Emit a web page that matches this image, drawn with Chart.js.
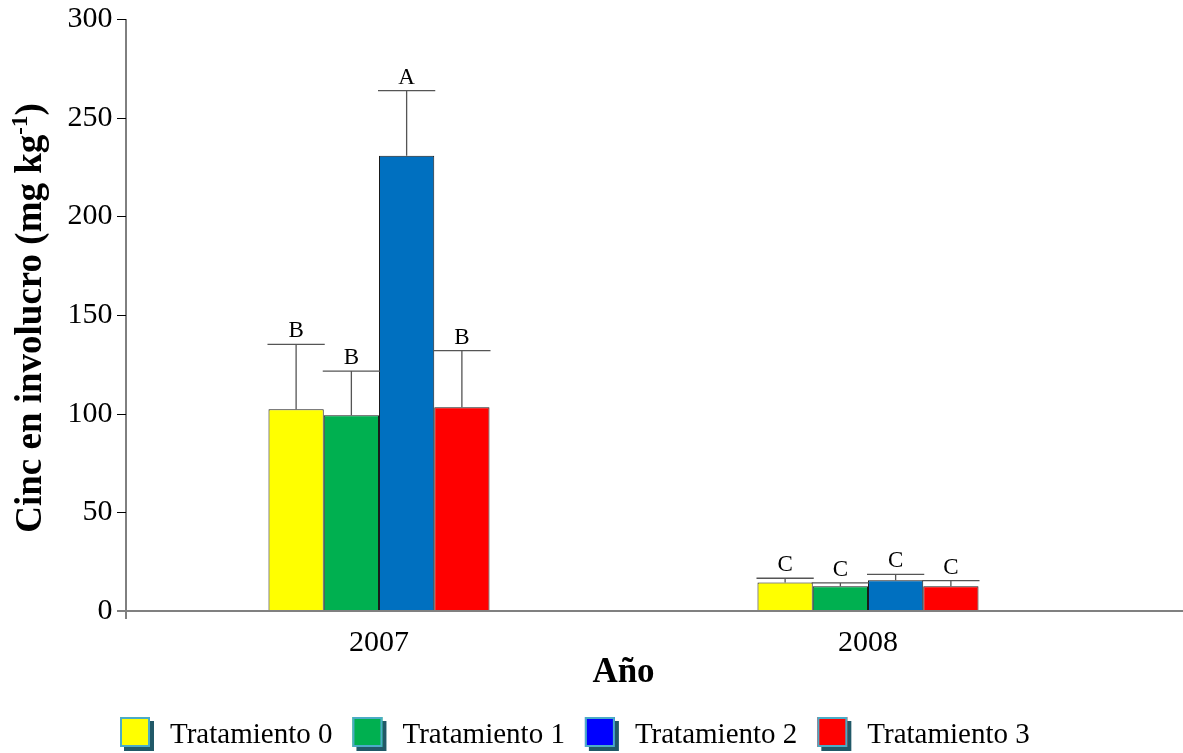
<!DOCTYPE html>
<html>
<head>
<meta charset="utf-8">
<script src="https://cdn.jsdelivr.net/npm/chart.js@4/dist/chart.umd.min.js"></script>
<style>
  html, body { margin: 0; padding: 0; background: #ffffff; }
  #chart { display: block; }
</style>
</head>
<body>
<canvas id="chart" width="1183" height="753"></canvas>
<script>
// --- datos ---
const years = ['2007', '2008'];
const seriesNames = ['Tratamiento 0', 'Tratamiento 1', 'Tratamiento 2', 'Tratamiento 3'];

const trat0 = [102.2, 14.5];
const trat1 = [99.2, 12.5];
const trat2 = [230.7, 15.6];
const trat3 = [103.2, 12.5];

// error (barra superior)
const err0 = [32.9, 2.1];
const err1 = [22.4, 1.8];
const err2 = [33.0, 3.0];
const err3 = [28.7, 2.9];

// letras de significancia
const letters0 = ['B', 'C'];
const letters1 = ['B', 'C'];
const letters2 = ['A', 'C'];
const letters3 = ['B', 'C'];

const barColors = ['#ffff00', '#00b050', '#0070c0', '#ff0000'];
const legendColors = ['#ffff00', '#00b050', '#0000ff', '#ff0000'];

const yMin = 0, yMax = 300, yStep = 50;

const SERIF = '"Liberation Serif", "Times New Roman", serif';

const values = [trat0, trat1, trat2, trat3];
const errors = [err0, err1, err2, err3];
const letters = [letters0, letters1, letters2, letters3];

const datasets = seriesNames.map((name, i) => ({
    label: name,
    data: values[i],
    errors: errors[i],
    letters: letters[i],
    backgroundColor: barColors[i],
    borderColor: '#1a1a1a',
    borderWidth: 1,
    borderSkipped: false,
    categoryPercentage: 0.452,
    barPercentage: 1.0
}));

// ejes, barras de error, letras, título Y y leyenda
const decorPlugin = {
    id: 'decor',
    afterDatasetsDraw(chart) {
        const ctx = chart.ctx;
        const area = chart.chartArea;
        const yScale = chart.scales.y;
        const axisX = area.left - 8.5;

        ctx.save();

        // eje Y
        ctx.strokeStyle = '#000000';
        ctx.lineWidth = 1;
        ctx.beginPath();
        ctx.moveTo(axisX, area.top);
        ctx.lineTo(axisX, area.bottom + 8);
        for (let v = yMin + yStep; v <= yMax; v += yStep) {
            const py = Math.round(yScale.getPixelForValue(v)) + 0.5;
            ctx.moveTo(axisX - 9, py);
            ctx.lineTo(axisX, py);
        }
        ctx.stroke();

        // eje X
        ctx.strokeStyle = '#808080';
        ctx.lineWidth = 2;
        ctx.beginPath();
        ctx.moveTo(axisX - 9, area.bottom);
        ctx.lineTo(chart.width, area.bottom);
        ctx.stroke();

        // barras de error y letras
        chart.data.datasets.forEach((ds, di) => {
            const meta = chart.getDatasetMeta(di);
            meta.data.forEach((bar, i) => {
                const top = yScale.getPixelForValue(ds.data[i] + ds.errors[i]);
                const half = bar.width / 2 + 1;
                ctx.strokeStyle = '#555555';
                ctx.lineWidth = 1.3;
                ctx.beginPath();
                ctx.moveTo(bar.x, bar.y);
                ctx.lineTo(bar.x, top);
                ctx.moveTo(bar.x - half, top);
                ctx.lineTo(bar.x + half, top);
                ctx.stroke();

                ctx.fillStyle = '#000000';
                ctx.font = '23px ' + SERIF;
                ctx.textAlign = 'center';
                ctx.textBaseline = 'alphabetic';
                ctx.fillText(ds.letters[i], bar.x, top - 7);
            });
        });

        // título eje Y con superíndice
        const mainText = 'Cinc en involucro (mg kg';
        const supText = '-1';
        const endText = ')';
        const mainFont = 'bold 37px ' + SERIF;
        const supFont = 'bold 23px ' + SERIF;
        ctx.font = mainFont;
        const w1 = ctx.measureText(mainText).width;
        const w3 = ctx.measureText(endText).width;
        ctx.font = supFont;
        const w2 = ctx.measureText(supText).width;
        const total = w1 + w2 + w3;
        ctx.translate(41, 318);
        ctx.rotate(-Math.PI / 2);
        ctx.fillStyle = '#000000';
        ctx.textAlign = 'left';
        ctx.textBaseline = 'alphabetic';
        let tx = -total / 2;
        ctx.font = mainFont;
        ctx.fillText(mainText, tx, 0);
        tx += w1;
        ctx.font = supFont;
        ctx.fillText(supText, tx, -14);
        tx += w2;
        ctx.font = mainFont;
        ctx.fillText(endText, tx, 0);
        ctx.setTransform(1, 0, 0, 1, 0, 0);

        // leyenda
        ctx.font = '29px ' + SERIF;
        ctx.textAlign = 'left';
        ctx.textBaseline = 'middle';
        let lx = 120;
        const ly = 717;
        seriesNames.forEach((name, i) => {
            ctx.fillStyle = '#215968';
            ctx.fillRect(lx + 4, ly + 4, 30, 30);
            ctx.fillStyle = legendColors[i];
            ctx.fillRect(lx, ly, 30, 30);
            ctx.strokeStyle = '#4bacc6';
            ctx.lineWidth = 2;
            ctx.strokeRect(lx + 1, ly + 1, 28, 28);
            ctx.fillStyle = '#000000';
            ctx.fillText(name, lx + 50, ly + 18);
            lx += 50 + ctx.measureText(name).width + 20;
        });

        ctx.restore();
    }
};

new Chart(document.getElementById('chart'), {
    type: 'bar',
    data: { labels: years, datasets: datasets },
    options: {
        responsive: false,
        animation: false,
        devicePixelRatio: 1,
        layout: { padding: { top: 19, right: 70.5, left: 0, bottom: 0 } },
        plugins: {
            legend: { display: false },
            tooltip: { enabled: false }
        },
        scales: {
            x: {
                offset: true,
                grid: { display: false, drawTicks: false },
                border: { display: false },
                ticks: {
                    color: '#000000',
                    font: { family: SERIF, size: 30 },
                    padding: 14
                },
                title: {
                    display: true,
                    text: 'Año',
                    color: '#000000',
                    font: { family: SERIF, size: 35, weight: 'bold' },
                    padding: { top: 0, bottom: 59 }
                },
                afterFit(scale) {
                    scale.height = 142;
                    scale.paddingLeft = 0;
                    scale.paddingRight = 0;
                }
            },
            y: {
                min: yMin,
                max: yMax,
                grid: { display: false, drawTicks: false },
                border: { display: false },
                ticks: {
                    stepSize: yStep,
                    color: '#000000',
                    font: { family: SERIF, size: 30 },
                    padding: 22
                },
                afterFit(scale) {
                    scale.width = 134.5;
                    scale.paddingTop = 0;
                    scale.paddingBottom = 0;
                }
            }
        }
    },
    plugins: [decorPlugin]
});
</script>
</body>
</html>
